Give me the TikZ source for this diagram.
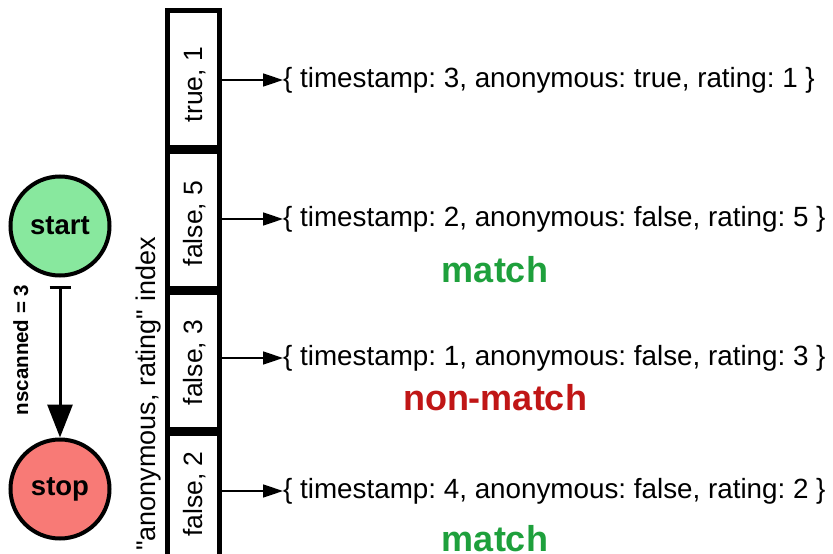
\documentclass[tikz,border=0pt]{standalone}
\usepackage{fontspec}
\setmainfont{Liberation Sans}
\newfontfamily\plainquotes{Liberation Sans}[Ligatures=TeXOff]
\usetikzlibrary{arrows.meta}
\definecolor{startfill}{HTML}{88E89E}
\definecolor{stopfill}{HTML}{F87A76}
\definecolor{matchgreen}{HTML}{1EA03C}
\definecolor{nonred}{HTML}{C01616}
\begin{document}
\frenchspacing
\begin{tikzpicture}[x=1pt,y=-1pt,
  state/.style={circle, draw, line width=4pt, minimum size=99pt, inner sep=0pt,
    font=\fontsize{27.5}{30}\selectfont\bfseries},
  idxbox/.style={draw, line width=4.5pt, minimum width=52pt, minimum height=137pt, inner sep=0pt},
  keytext/.style={rotate=90, anchor=base, inner sep=0pt, font=\fontsize{26.5}{30}\selectfont},
  doctext/.style={anchor=west, inner sep=0pt, font=\fontsize{27.8}{32}\selectfont},
  ptr/.style={-{Triangle[length=20pt,width=13pt]}, line width=1.5pt},
  verdict/.style={anchor=base, inner sep=0pt, font=\fontsize{36}{40}\selectfont\bfseries}]
\useasboundingbox (0,0) rectangle (833,554);
% start / stop
\node[state, fill=startfill] (start) at (60,226) {start};
\node[state, fill=stopfill] (stop) at (60,489) {stop};
\draw[{Bar[width=21pt]}-{Triangle[length=33pt,width=25pt]}, line width=3pt, shorten <=8pt] (start) -- (stop);
\node[rotate=90, anchor=base, inner sep=0pt, font=\fontsize{20.5}{24}\selectfont\bfseries] (nsc) at (28,350) {nscanned = 3};
% index label
\node[rotate=90, anchor=base, inner sep=0pt, font=\fontsize{27}{30}\selectfont\plainquotes] (idxlabel) at (155,394) {"anonymous, rating" index};
% index boxes
\node[idxbox] (k1) at (193.5,79) {};
\node[idxbox] (k2) at (193.5,220) {};
\node[idxbox] (k3) at (193.5,361) {};
\node[idxbox] (k4) at (193.5,502) {};
\node[keytext] (l1) at (202,84.5) {true, 1};
\node[keytext] (l2) at (202,223.5) {false, 5};
\node[keytext] (l3) at (202,362.5) {false, 3};
\node[keytext] (l4) at (202,494) {false, 2};
% documents
\node[doctext] (d1) at (283,80) {\{ timestamp: 3, anonymous: true, rating: 1 \}};
\node[doctext] (d2) at (283,219) {\{ timestamp: 2, anonymous: false, rating: 5 \}};
\node[doctext] (d3) at (283,358) {\{ timestamp: 1, anonymous: false, rating: 3 \}};
\node[doctext] (d4) at (283,491) {\{ timestamp: 4, anonymous: false, rating: 2 \}};
\draw[ptr] (k1.east |- d1.west) -- (d1.west);
\draw[ptr] (k2.east |- d2.west) -- (d2.west);
\draw[ptr] (k3.east |- d3.west) -- (d3.west);
\draw[ptr] (k4.east |- d4.west) -- (d4.west);
% verdicts
\node[verdict, text=matchgreen] (v1) at (495,282) {match};
\node[verdict, text=nonred] (v2) at (495,410) {non-match};
\node[verdict, text=matchgreen] (v3) at (495,551) {match};
\end{tikzpicture}
\end{document}
